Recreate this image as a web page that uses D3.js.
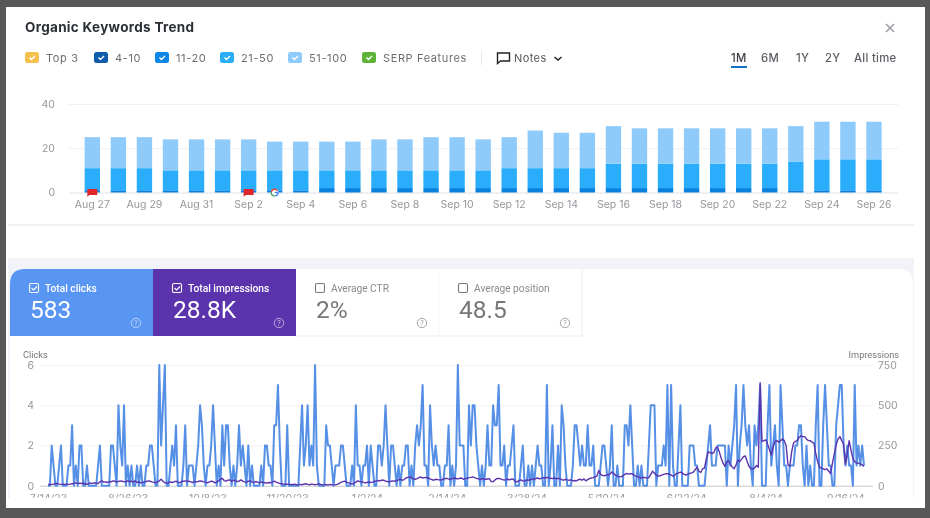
<!DOCTYPE html><meta charset="utf-8"><style>
    html, body { margin: 0; background: #585858; }
    svg { display: block; filter: blur(0.35px); }
    text { font-family: Inter, sans-serif; }
    .tick text { fill: #94979b; font-size: 10.5px; }
    .tick line { display: none; }
    .domain { display: none; }
</style><svg width="930" height="518"></svg><script src="https://cdn.jsdelivr.net/npm/d3@7"></script><script>

    // top chart
    var days = ["Aug 27","Aug 28","Aug 29","Aug 30","Aug 31","Sep 1","Sep 2","Sep 3","Sep 4","Sep 5","Sep 6","Sep 7","Sep 8","Sep 9","Sep 10","Sep 11","Sep 12","Sep 13","Sep 14","Sep 15","Sep 16","Sep 17","Sep 18","Sep 19","Sep 20","Sep 21","Sep 22","Sep 23","Sep 24","Sep 25","Sep 26"];
    var pos11 = [1,1,1,1,1,1,1,1,1,2,2,2,2,2,2,2,2,2,2,2,2,2,2,2,2,2,2,1,1,1,1];
    var pos21 = [10,10,10,9,9,9,9,9,9,8,8,8,8,8,8,8,9,9,9,9,11,11,11,11,11,11,11,13,14,14,14];
    var pos51 = [14,14,14,14,14,14,14,13,13,13,13,14,14,15,15,14,14,17,16,16,17,16,16,16,16,16,16,16,17,17,17];
    var topTicks = [0, 20, 40];

    var legendNames = ["Top 3","4-10","11-20","21-50","51-100","SERP Features"];
    var legendColors = ["#f6c04e","#0f5cab","#0d86e6","#2bacf6","#8ecbfb","#5fb336"];
    var ranges = ["1M","6M","1Y","2Y","All time"];

    // bottom chart, one value per day
    var clicks = [
        0,0,2,1,0,0,1,2,0,0,
        0,1,1,3,0,1,0,2,2,0,
        0,1,0,0,0,0,0,1,2,0,
        0,0,0,0,2,2,1,0,4,2,
        1,4,0,1,0,1,0,0,1,0,
        1,0,0,1,1,2,2,1,0,0,
        6,2,4,6,0,0,1,2,1,3,
        0,0,0,1,3,0,1,1,1,0,
        1,2,4,3,1,0,1,1,2,4,
        2,0,1,0,3,1,3,3,1,0,
        1,0,1,3,1,2,1,0,2,0,
        1,0,0,0,0,1,0,2,2,1,
        1,0,3,3,5,2,0,0,0,3,
        0,0,0,0,0,0,2,4,1,2,
        4,1,2,1,6,1,0,0,0,0,
        3,2,2,1,0,1,1,1,2,2,
        1,0,0,0,1,0,4,1,1,0,
        1,1,2,0,2,1,0,0,2,2,
        1,2,4,2,0,2,2,1,0,1,
        0,1,1,2,2,0,1,0,2,3,
        2,3,5,1,1,0,4,2,1,2,
        1,1,0,0,1,1,3,0,1,0,
        1,6,2,2,2,0,0,4,2,4,
        4,2,1,0,1,0,1,3,1,1,
        4,3,3,5,1,1,2,0,1,1,
        2,3,0,0,0,1,2,0,0,1,
        0,1,0,1,2,1,1,0,0,5,
        0,1,3,0,0,2,0,4,3,1,
        0,0,0,1,3,3,2,1,2,1,
        1,3,1,1,2,0,0,0,1,2,
        2,1,0,1,3,0,0,1,0,0,
        0,3,3,2,4,2,0,0,1,0,
        1,0,0,0,2,4,4,4,0,1,
        1,1,2,1,5,0,5,1,0,0,
        2,4,0,0,0,0,2,2,2,1,
        1,0,0,0,0,1,2,3,1,1,
        1,2,2,2,2,2,0,2,1,2,
        3,5,0,2,3,5,3,2,3,1,
        0,3,2,3,5,0,0,0,3,5,
        1,2,3,1,0,5,3,1,1,0,
        1,1,1,2,2,3,3,1,0,2,
        0,1,0,0,3,5,0,0,3,5,
        3,1,1,0,0,3,4,5,5,2,
        1,2,1,1,0,5,1,2,1,2,
        1];
    var impressions = [
        8,6,8,10,12,14,10,8,10,8,
        10,8,10,12,14,18,14,16,14,15,
        12,8,14,16,14,18,16,14,24,30,
        22,24,20,26,24,30,28,24,26,30,
        28,24,26,30,26,28,22,30,20,24,
        18,20,24,26,30,28,24,22,18,24,
        30,40,28,18,16,20,24,20,24,28,
        22,18,26,28,30,26,28,24,20,26,
        24,26,30,28,24,22,18,24,28,26,
        18,24,30,40,45,32,28,34,36,28,
        35,30,26,28,36,28,24,22,28,30,
        24,20,26,22,18,24,20,18,16,20,
        18,24,28,22,18,14,12,10,8,10,
        8,6,8,10,6,5,8,6,10,12,
        8,6,10,8,6,8,12,8,6,5,
        6,4,8,6,5,5,8,14,20,25,
        28,22,18,14,10,16,22,30,26,24,
        22,18,20,24,20,22,26,30,32,30,
        35,34,28,26,24,28,30,28,32,36,
        40,34,38,48,52,55,50,42,40,44,
        50,54,48,50,52,48,42,38,34,40,
        38,36,35,40,44,46,42,40,44,48,
        45,42,46,48,40,44,46,50,52,55,
        50,46,42,38,44,42,40,42,44,26,
        25,36,44,46,42,38,35,38,40,36,
        42,40,25,25,32,36,30,28,36,34,
        38,42,40,44,48,42,46,50,48,52,
        50,46,44,48,42,46,44,38,34,40,
        36,34,36,30,32,30,38,40,34,42,
        30,38,44,48,50,55,60,95,70,64,
        62,66,68,72,85,75,66,60,56,55,
        62,70,76,72,74,75,66,60,56,50,
        48,52,50,48,50,70,90,78,66,60,
        62,66,70,74,75,72,66,60,66,76,
        80,85,78,70,66,72,76,80,85,100,
        115,90,82,105,110,170,210,205,200,205,
        235,240,210,170,140,120,150,155,130,115,
        105,130,160,150,165,180,185,150,120,105,
        105,110,125,115,640,275,280,285,260,225,
        190,240,275,280,270,280,290,280,250,130,
        120,210,265,275,280,300,310,305,305,290,
        280,280,270,265,200,150,115,110,105,100,
        105,90,75,140,200,255,290,305,280,260,
        135,200,280,220,170,150,140,140,135,130,
        120];
    var dateLabels = ["7/14/23","8/26/23","10/8/23","11/20/23","1/2/24","2/14/24","3/28/24","5/10/24","6/22/24","8/4/24","9/16/24"];
    var clickTicks = [0, 2, 4, 6];
    var imprTicks = [0, 250, 500, 750];

    var cards = [
        {label: "Total clicks", value: "583", bg: "#5995f2", fg: "#fff", on: true},
        {label: "Total impressions", value: "28.8K", bg: "#5b33ac", fg: "#fff", on: true},
        {label: "Average CTR", value: "2%", bg: "#fff", fg: "#777", on: false},
        {label: "Average position", value: "48.5", bg: "#fff", fg: "#777", on: false}
    ];

    const svg = d3.select("svg");

    // page sheets
    svg.append("rect").attr("x", 6).attr("y", 7).attr("width", 919).attr("height", 501).attr("fill", "#fff");
    svg.append("rect").attr("x", 8).attr("y", 224).attr("width", 906).attr("height", 2).attr("fill", "#f0f1f5");
    svg.append("rect").attr("x", 8).attr("y", 258).attr("width", 906).attr("height", 240).attr("fill", "#f1f3f9");
    svg.append("path").attr("d", "M10 498V284q0-15 15-15H898q15 0 15 15V498Z").attr("fill", "#fff");

    // header
    svg.append("text").attr("x", 25).attr("y", 32).attr("font-size", 13.5).attr("font-weight", 700)
        .attr("fill", "#2b2f36").attr("textLength", 169).text("Organic Keywords Trend");
    svg.append("path").attr("d", "M886 24l8 8M894 24l-8 8").attr("stroke", "#9a9ea3").attr("stroke-width", 1.5);

    // legend
    var legendX = [25, 94, 155, 220, 288, 362];
    var legend = svg.append("g").selectAll("g").data(legendNames).join("g")
        .attr("transform", (d, i) => `translate(${legendX[i]},52)`);
    legend.append("rect").attr("width", 14).attr("height", 11).attr("rx", 2.5).attr("fill", (d, i) => legendColors[i]);
    legend.append("path").attr("d", "M4.5 5.5l2 2 3.5-3.5").attr("fill", "none").attr("stroke", "#fff").attr("stroke-width", 1.4);
    legend.append("text").attr("x", 21).attr("y", 10).attr("font-size", 11).attr("fill", "#6a6e73")
        .style("letter-spacing", "0.62px").text(d => d);

    svg.append("rect").attr("x", 481).attr("y", 51).attr("width", 1).attr("height", 14).attr("fill", "#e4e5e7");
    svg.append("path").attr("d", "M497.5 53h12v8h-9l-3 2.5Z").attr("fill", "none").attr("stroke", "#222").attr("stroke-width", 1.4);
    svg.append("text").attr("x", 514).attr("y", 62).attr("font-size", 11).attr("fill", "#55595e")
        .style("letter-spacing", "0.4px").text("Notes");
    svg.append("path").attr("d", "M554.5 57l3.5 3 3.5-3").attr("fill", "none").attr("stroke", "#222").attr("stroke-width", 1.5);

    // range buttons
    var rangeX = [731, 761, 796, 825, 854];
    svg.append("g").selectAll("text").data(ranges).join("text")
        .attr("x", (d, i) => rangeX[i]).attr("y", 62).attr("font-size", 11.3).attr("font-weight", 500)
        .attr("fill", (d, i) => i == 0 ? "#3a3e44" : "#5a5e63")
        .style("letter-spacing", "0.3px").text(d => d);
    svg.append("rect").attr("x", 731).attr("y", 66).attr("width", 16).attr("height", 2).attr("fill", "#1170c4");

    // stacked bars
    var topData = days.map((d, i) => ({day: d, pos11: pos11[i], pos21: pos21[i], pos51: pos51[i]}));
    var series = d3.stack().keys(["pos11", "pos21", "pos51"])(topData);
    var barColor = d3.scaleOrdinal().domain(["pos11", "pos21", "pos51"]).range(["#0a80de", "#2aaefc", "#8ecbfb"]);

    var x = d3.scaleBand().domain(days).range([79.3, 887]).paddingInner(0.41).paddingOuter(0.205);
    var y = d3.scaleLinear().domain([0, 40]).range([192.5, 104]);

    svg.append("g").attr("transform", "translate(69,0)")
        .call(d3.axisLeft(y).tickValues(topTicks).tickSize(0).tickPadding(14))
        .call(g => g.selectAll(".tick").append("rect")
            .attr("x", 0).attr("y", -0.5).attr("width", 829).attr("height", 1)
            .attr("fill", d => d == 0 ? "#dfe2e6" : "#eef0f2"));

    svg.append("g").selectAll("g").data(series).join("g")
        .attr("fill", d => barColor(d.key))
        .selectAll("rect").data(d => d).join("rect")
        .attr("x", d => x(d.data.day))
        .attr("y", d => y(d[1]))
        .attr("width", x.bandwidth())
        .attr("height", d => y(d[0]) - y(d[1]));

    svg.append("g").attr("transform", "translate(0,192)")
        .call(d3.axisBottom(x).tickValues(days.filter((d, i) => i % 2 == 0)).tickSize(0).tickPadding(9));

    // note flags
    [0, 6].forEach(i => {
        var cx = x(days[i]) + x.bandwidth() / 2;
        svg.append("path").attr("d", `M${cx - 5} 189h10v6h-8l-2 2Z`).attr("fill", "#e0262b");
    });
    var gx = x(days[7]) + x.bandwidth() / 2;
    svg.append("circle").attr("cx", gx).attr("cy", 192.5).attr("r", 3.6).attr("fill", "#fff");
    svg.append("path").attr("d", `M${gx + 3.4} 192.5a3.4 3.4 0 0 1-3.4 3.4M${gx} 192.5h3.4`).attr("fill", "none").attr("stroke", "#4285f4").attr("stroke-width", 1.4);
    svg.append("path").attr("d", `M${gx - 3.4} 192.5a3.4 3.4 0 0 1 6-2`).attr("fill", "none").attr("stroke", "#ea4335").attr("stroke-width", 1.4);
    svg.append("path").attr("d", `M${gx - 3.4} 192.5a3.4 3.4 0 0 0 3.4 3.4`).attr("fill", "none").attr("stroke", "#34a853").attr("stroke-width", 1.4);

    // metric cards
    var cardX = d3.scaleBand().domain(d3.range(cards.length)).range([10, 582]);
    var card = svg.append("g").selectAll("g").data(cards).join("g")
        .attr("transform", (d, i) => `translate(${cardX(i)},269)`);
    card.append("path")
        .attr("d", (d, i) => i == 0 ? "M0 67V15q0-15 15-15H143V67Z" : "M0 0H143V67H0Z")
        .attr("fill", d => d.bg);
    card.filter(d => !d.on).append("path").attr("d", "M143 0V67H0").attr("fill", "none").attr("stroke", "#ececec");
    card.append("rect").attr("x", 19.5).attr("y", 14.5).attr("width", 9).attr("height", 9).attr("rx", 1.5)
        .attr("fill", "none").attr("stroke", d => d.fg).attr("stroke-width", 1.1);
    card.filter(d => d.on).append("path").attr("d", "M21.5 19l2 2 3.5-3.5").attr("fill", "none").attr("stroke", "#fff").attr("stroke-width", 1.1);
    card.append("text").attr("x", 35).attr("y", 22.5).attr("font-size", 10.2).attr("fill", d => d.on ? "#fff" : "#8a8a8a")
        .attr("font-weight", d => d.on ? 500 : 400)
        .style("font-family", "Roboto, sans-serif").text(d => d.label);
    card.append("text").attr("x", 20).attr("y", 49).attr("font-size", 24.5).attr("fill", d => d.fg)
        .style("font-family", "Roboto, sans-serif").text(d => d.value);
    card.append("circle").attr("cx", 126).attr("cy", 54).attr("r", 4.7).attr("fill", "none")
        .attr("stroke", d => d.on ? "rgba(255,255,255,.55)" : "#a5a5a5");
    card.append("text").attr("x", 126).attr("y", 56.5).attr("text-anchor", "middle").attr("font-size", 7)
        .attr("fill", d => d.on ? "rgba(255,255,255,.6)" : "#a5a5a5").text("?");

    // clicks / impressions chart
    var xDay = d3.scaleLinear().domain([0, 440]).range([48, 864]);
    var yClicks = d3.scaleLinear().domain([0, 6]).range([485.7, 365]);
    var yImpr = d3.scaleLinear().domain([0, 750]).range([485.7, 365]);

    svg.append("text").attr("x", 23).attr("y", 358).attr("font-size", 9.2).attr("fill", "#777")
        .style("font-family", "Roboto, sans-serif").text("Clicks");
    svg.append("text").attr("x", 899).attr("y", 358).attr("text-anchor", "end").attr("font-size", 9.2).attr("fill", "#777")
        .style("font-family", "Roboto, sans-serif").text("Impressions");

    svg.append("g").attr("transform", "translate(40,0)")
        .call(d3.axisLeft(yClicks).tickValues(clickTicks).tickFormat(d3.format("d")).tickSize(0).tickPadding(6))
        .call(g => g.selectAll(".tick").append("rect")
            .attr("x", 0).attr("y", -0.5).attr("width", 833).attr("height", 1)
            .attr("fill", d => d == 0 ? "#c9c9c9" : "#f3f3f3"));
    svg.append("g").attr("transform", "translate(875,0)")
        .call(d3.axisRight(yImpr).tickValues(imprTicks).tickSize(0).tickPadding(3));

    var clickLine = d3.line().x((d, i) => xDay(i)).y(d => yClicks(d));
    var imprLine = d3.line().x((d, i) => xDay(i)).y(d => yImpr(d));

    svg.append("path").datum(clicks).attr("d", clickLine).attr("fill", "none")
        .attr("stroke", "#5690e6").attr("stroke-width", 2).attr("stroke-linejoin", "round");
    svg.append("path").datum(impressions).attr("d", imprLine).attr("fill", "none")
        .attr("stroke", "#5b33ac").attr("stroke-width", 1.4).attr("stroke-linejoin", "round");

    // date labels are cut off in the screenshot, only their top edge shows
    svg.append("g").attr("transform", "translate(0,486)")
        .call(d3.axisBottom(xDay).tickValues(dateLabels.map((d, i) => i * 43))
            .tickFormat((d, i) => dateLabels[i]).tickSize(0).tickPadding(9));
    svg.append("rect").attr("x", 8).attr("y", 497.7).attr("width", 906).attr("height", 10.3).attr("fill", "#fff");

</script>
